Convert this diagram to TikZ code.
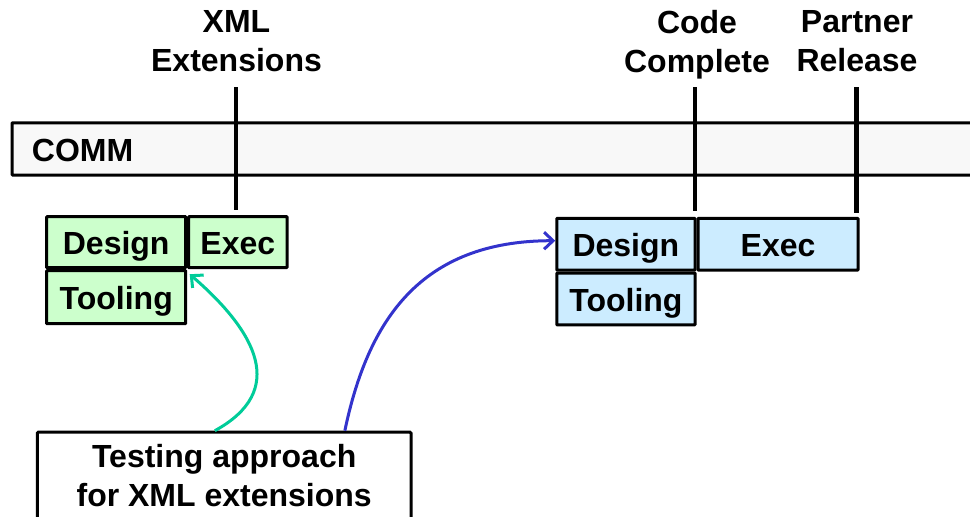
\documentclass[tikz,border=0pt]{standalone}
\usepackage{fontspec}
\setmainfont{Liberation Sans}
\usetikzlibrary{arrows.meta}
\definecolor{greenfill}{HTML}{CCFFCC}
\definecolor{bluefill}{HTML}{CCECFF}
\definecolor{barfill}{HTML}{F8F8F8}
\definecolor{tealline}{HTML}{00CC99}
\definecolor{blueline}{HTML}{3333CC}
\tikzset{
  boxbase/.style={draw=black, line width=3pt, rounded corners=0.6pt, inner sep=0pt,
    text height=25pt, text depth=0pt},
  gbox/.style={boxbase, fill=greenfill},
  bbox/.style={boxbase, fill=bluefill},
  barbox/.style={boxbase, fill=barfill},
  mslabel/.style={inner sep=0pt, align=center, anchor=north},
  msline/.style={line width=4pt},
  notebox/.style={draw=black, line width=3pt, rounded corners=1pt, fill=white,
    inner xsep=0pt, inner ysep=12.6pt, align=center, anchor=north},
  curvearrow/.style={line width=3pt, -{Straight Barb[length=9pt,width=17pt]}}
}
\begin{document}
\begin{tikzpicture}[x=1pt, y=-1pt, font=\fontsize{32}{39}\selectfont\bfseries]
  \clip (0,0) rectangle (970,517);

  % timeline bar
  \node[barbox, anchor=west, minimum width=990pt, minimum height=52.3pt] (comm) at (10.7,148.9) {};
  \node[inner sep=0pt, anchor=west, text height=25pt, text depth=0pt] (commlabel) at (31.7,148.9) {COMM};

  % milestones
  \node[mslabel] (xmllabel) at (236.5,10) {XML\\Extensions};
  \node[mslabel] (codelabel) at (697,10) {Code\\Complete};
  \node[mslabel] (partnerlabel) at (857,10) {Partner\\Release};

  \coordinate (xmltop) at (235.7,87);
  \coordinate (xmlbot) at (235.7,210);
  \coordinate (codetop) at (695.3,87);
  \coordinate (codebot) at (695.3,211);
  \coordinate (partnertop) at (856.3,87);
  \coordinate (partnerbot) at (856.3,213);
  \draw[msline] (xmltop) -- (xmlbot);
  \draw[msline] (codetop) -- (codebot);
  \draw[msline, line width=5.5pt] (partnertop) -- (partnerbot);

  % first work block
  \node[gbox, minimum width=139pt, minimum height=51pt] (gdesign) at (116.2,242.2) {Design};
  \node[gbox, anchor=west, minimum width=98.3pt, minimum height=51pt] (gexec) at (gdesign.east) {Exec};
  \node[gbox, anchor=north, minimum width=139pt, minimum height=53pt] (gtool) at (gdesign.south) {Tooling};

  % second work block
  \node[bbox, minimum width=138.3pt, minimum height=51.7pt] (bdesign) at (625.9,244.2) {Design};
  \node[bbox, anchor=west, minimum width=160pt, minimum height=51.7pt] (bexec) at (bdesign.east) {Exec};
  \node[bbox, anchor=north, minimum width=138.3pt, minimum height=51.7pt] (btool) at (bdesign.south) {Tooling};

  % note
  \node[notebox, minimum width=373.7pt] (note) at (224.2,430.7) {Testing approach\\for XML extensions};

  % connectors from the note
  \draw[curvearrow, tealline] ([xshift=179pt]note.north west)
    .. controls +(73,-40) and +(67,58) .. ([xshift=2.5pt,yshift=-5pt]gtool.north east);
  \draw[curvearrow, blueline] ([xshift=309pt]note.north west)
    .. controls +(23,-110) and +(-135,0) .. ([yshift=3.5pt]bdesign.west);
\end{tikzpicture}
\end{document}
